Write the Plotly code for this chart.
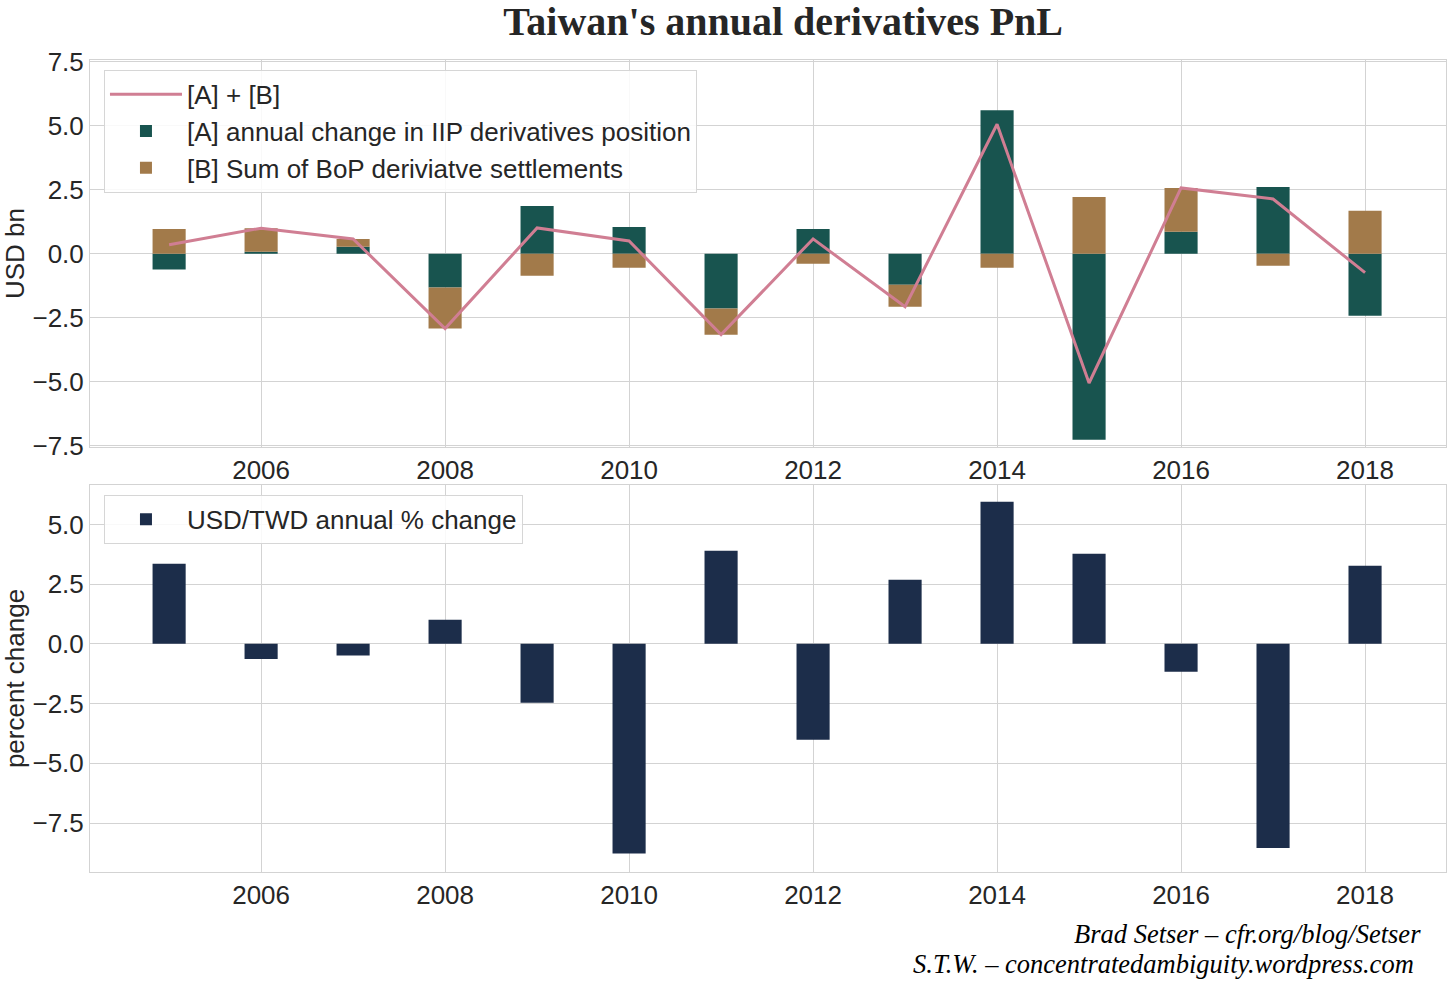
import plotly.graph_objects as go

years = [2005, 2006, 2007, 2008, 2009, 2010, 2011, 2012, 2013, 2014, 2015, 2016, 2017, 2018]
iip_change = [-0.62, 0.08, 0.27, -1.32, 1.87, 1.05, -2.14, 0.97, -1.21, 5.61, -7.27, 0.86, 2.61, -2.42]
bop_settle = [0.97, 0.92, 0.31, -1.60, -0.86, -0.55, -1.02, -0.39, -0.86, -0.55, 2.22, 1.71, -0.47, 1.68]
usd_twd_pct = [3.35, -0.63, -0.49, 1.01, -2.46, -8.78, 3.90, -4.01, 2.68, 5.95, 3.77, -1.17, -8.55, 3.27]

total = [a + b for a, b in zip(iip_change, bop_settle)]

C_A = "#18544f"
C_B = "#a27a4a"
C_LINE = "#d07e93"
C_FX = "#1c2d4a"
GRID = "#d3d3d3"
TXT = "#262626"
SANS = "Liberation Sans, Arial, sans-serif"
SERIF = "Liberation Serif, DejaVu Serif, serif"

fig = go.Figure()
fig.add_trace(go.Scatter(x=years, y=total, mode="lines", name="[A] + [B]",
                         line=dict(color=C_LINE, width=3), xaxis="x", yaxis="y", legend="legend"))
fig.add_trace(go.Bar(x=years, y=iip_change, name="[A] annual change in IIP derivatives position",
                     marker=dict(color=C_A, line=dict(width=0)), width=0.36, xaxis="x", yaxis="y", legend="legend"))
fig.add_trace(go.Bar(x=years, y=bop_settle, name="[B] Sum of BoP deriviatve settlements",
                     marker=dict(color=C_B, line=dict(width=0)), width=0.36, xaxis="x", yaxis="y", legend="legend"))
fig.add_trace(go.Bar(x=years, y=usd_twd_pct, name="USD/TWD annual % change",
                     marker=dict(color=C_FX, line=dict(width=0)), width=0.36, xaxis="x2", yaxis="y2", legend="legend2"))

tickfont = dict(family=SANS, size=26, color=TXT)
ax_common = dict(showgrid=True, gridcolor=GRID, gridwidth=1, zeroline=False, showline=True,
                 linecolor=GRID, linewidth=1, mirror=True, ticks="", tickfont=tickfont)

fig.update_layout(
    width=1453, height=981,
    margin=dict(l=90, r=7, t=60, b=109, autoexpand=False),
    paper_bgcolor="white", plot_bgcolor="white",
    barmode="relative",
    showlegend=True,
    title=dict(text="<b>Taiwan's annual derivatives PnL</b>", x=0.539, xanchor="center", y=0.979, yanchor="middle",
               font=dict(family=SERIF, size=40, color=TXT)),
    xaxis=dict(domain=[0, 1], range=[2004.14, 2018.88], tickvals=[2006, 2008, 2010, 2012, 2014, 2016, 2018],
               anchor="y", **ax_common),
    yaxis=dict(domain=[0.5234, 1], range=[-7.55, 7.57], tickvals=[-7.5, -5, -2.5, 0, 2.5, 5, 7.5],
               tickformat=".1f", anchor="x",
               title=dict(text="USD bn", font=dict(family=SANS, size=26, color=TXT), standoff=2),
               **ax_common),
    xaxis2=dict(domain=[0, 1], range=[2004.14, 2018.88], tickvals=[2006, 2008, 2010, 2012, 2014, 2016, 2018],
                anchor="y2", **ax_common),
    yaxis2=dict(domain=[0, 0.4766], range=[-9.55, 6.65], tickvals=[-7.5, -5, -2.5, 0, 2.5, 5],
                tickformat=".1f", anchor="x2",
                title=dict(text="percent change", font=dict(family=SANS, size=26, color=TXT), standoff=2),
                **ax_common),
    legend=dict(x=0.0103, y=0.988, xanchor="left", yanchor="top", traceorder="normal",
                bgcolor="rgba(255,255,255,0.85)", bordercolor="#d6d6d6", borderwidth=1,
                itemwidth=72, font=dict(family=SANS, size=26, color=TXT)),
    legend2=dict(x=0.0103, y=0.4646, xanchor="left", yanchor="top",
                 bgcolor="rgba(255,255,255,0.85)", bordercolor="#d6d6d6", borderwidth=1,
                 itemwidth=72, font=dict(family=SANS, size=26, color=TXT)),
    annotations=[
        dict(text="<i>Brad Setser – cfr.org/blog/Setser</i>", xref="paper", yref="paper",
             x=0.9823, y=-0.0762, xanchor="right", yanchor="middle", showarrow=False,
             borderpad=0, font=dict(family=SERIF, size=26.5, color="black")),
        dict(text="<i>S.T.W. – concentratedambiguity.wordpress.com</i>", xref="paper", yref="paper",
             x=0.9771, y=-0.1127, xanchor="right", yanchor="middle", showarrow=False,
             borderpad=0, font=dict(family=SERIF, size=26.5, color="black")),
    ],
)

fig.write_html("out.html", config={"displayModeBar": False},
               post_script="document.body.style.margin='0';document.body.style.padding='0';")
